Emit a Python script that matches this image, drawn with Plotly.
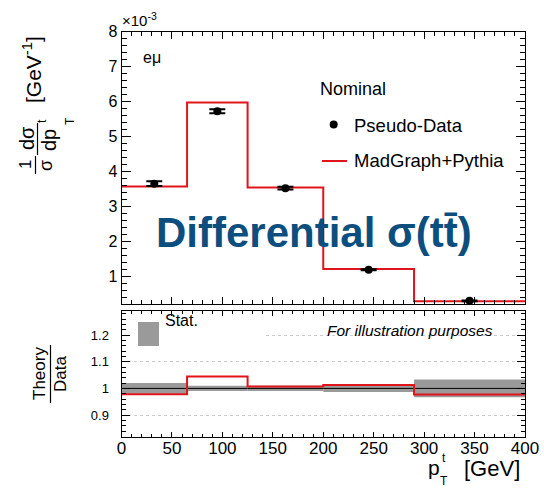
import plotly.graph_objects as go

# ---------------- data ----------------
bin_edges = [0, 65, 125, 200, 290, 400]
bin_centers = [32.5, 95, 162.5, 245, 345]
data_vals = [3.65, 5.72, 3.52, 1.19, 0.30]        # in units of 1e-3 GeV^-1
data_errs = [0.07, 0.06, 0.04, 0.015, 0.01]
model_vals = [3.57, 5.97, 3.54, 1.21, 0.29]       # MadGraph+Pythia
ratio_vals = [0.978, 1.045, 1.007, 1.013, 0.977]  # Theory / Data
stat_errs = [0.020, 0.010, 0.010, 0.013, 0.033]   # relative stat. unc.

main_ticks = [1, 2, 3, 4, 5, 6, 7, 8]
main_ticktext = ["1", "2", "3", "4", "5", "6", "7", "8"]
ratio_ticks = [0.9, 1.0, 1.1, 1.2]
ratio_ticktext = ["0.9", "1", "1.1", "1.2"]
x_ticks = [0, 50, 100, 150, 200, 250, 300, 350, 400]

W, H = 544, 490
FONT = "Liberation Sans, Arial, Helvetica, sans-serif"
RED = "#e0141b"
BLUE = "#0c4f7f"


def px(x):
    return x / W


def py(y):
    return 1 - y / H


bin_widths = [bin_edges[i + 1] - bin_edges[i] for i in range(len(bin_centers))]

fig = go.Figure()

# main panel: model step histogram
fig.add_trace(go.Scatter(
    x=bin_edges, y=model_vals + [model_vals[-1]], mode="lines",
    line=dict(color=RED, width=2, shape="hv"), xaxis="x", yaxis="y",
    showlegend=False, hoverinfo="skip"))

# main panel: pseudo-data points
fig.add_trace(go.Scatter(
    x=bin_centers, y=data_vals, mode="markers",
    marker=dict(color="black", size=8, symbol="circle"),
    error_y=dict(type="data", array=data_errs, color="black", thickness=2, width=8),
    xaxis="x", yaxis="y", showlegend=False))

# ratio panel: stat band
fig.add_trace(go.Bar(
    x=bin_centers, y=[2 * e for e in stat_errs], base=[1 - e for e in stat_errs],
    width=bin_widths, marker=dict(color="#9a9a9a", line=dict(width=0)),
    xaxis="x2", yaxis="y2", showlegend=False, hoverinfo="skip"))

# ratio panel: data / data = 1
fig.add_trace(go.Scatter(
    x=bin_edges, y=[1.0] * len(bin_edges), mode="lines",
    line=dict(color="black", width=1, shape="hv"), xaxis="x2", yaxis="y2",
    showlegend=False, hoverinfo="skip"))

# ratio panel: theory / data
fig.add_trace(go.Scatter(
    x=bin_edges, y=ratio_vals + [ratio_vals[-1]], mode="lines",
    line=dict(color=RED, width=2, shape="hv"), xaxis="x2", yaxis="y2",
    showlegend=False, hoverinfo="skip"))

x_dom = [121.5 / W, 525 / W]
main_dom = [py(304.3), py(31.5)]
ratio_dom = [py(436.7), py(310.5)]

common_ax = dict(showline=True, linecolor="black", linewidth=1, mirror="allticks",
                 ticks="inside", tickcolor="black", zeroline=False, showgrid=False,
                 automargin=False,
                 tickfont=dict(family=FONT, size=17, color="black"))

fig.update_layout(
    width=W, height=H, margin=dict(l=0, r=0, t=0, b=0, autoexpand=False),
    paper_bgcolor="white", plot_bgcolor="white", barmode="overlay",
    font=dict(family=FONT, color="black"),
    xaxis=dict(common_ax, domain=x_dom, anchor="y", range=[0, 400],
               tickvals=x_ticks, showticklabels=False, ticklen=7,
               minor=dict(ticks="inside", ticklen=4, dtick=10, tick0=0, tickcolor="black")),
    yaxis=dict(common_ax, domain=main_dom, anchor="x", range=[0.2, 8.0],
               tickvals=main_ticks, ticktext=main_ticktext, ticklen=9,
               tickfont=dict(family=FONT, size=16, color="black"),
               minor=dict(ticks="inside", ticklen=5, dtick=0.2, tick0=0, tickcolor="black")),
    xaxis2=dict(common_ax, domain=x_dom, anchor="y2", range=[0, 400], matches="x",
                tickvals=x_ticks, ticklen=5, ticklabelstandoff=-4,
                minor=dict(ticks="inside", ticklen=3, dtick=10, tick0=0, tickcolor="black")),
    yaxis2=dict(common_ax, domain=ratio_dom, anchor="x2", range=[0.819, 1.292],
                tickvals=ratio_ticks, ticktext=ratio_ticktext, ticklen=8,
                tickfont=dict(family=FONT, size=13, color="black"),
                ticklabelstandoff=9,
                showgrid=True, gridcolor="#cccccc", griddash="dot", gridwidth=1,
                minor=dict(ticks="inside", ticklen=4, dtick=0.02, tick0=0, tickcolor="black")),
)

shapes = []
annots = []


def ann(text, x, y, size, angle=0, xanchor="center", yanchor="middle",
        color="black", bold=False, italic=False):
    t = text
    if bold:
        t = "<b>" + t + "</b>"
    if italic:
        t = "<i>" + t + "</i>"
    annots.append(dict(text=t, x=px(x), y=py(y), xref="paper", yref="paper",
                       showarrow=False, textangle=angle, xanchor=xanchor,
                       yanchor=yanchor, font=dict(family=FONT, size=size, color=color)))


def hline(x0, x1, y, color="black", width=1):
    shapes.append(dict(type="line", xref="paper", yref="paper", x0=px(x0), x1=px(x1),
                       y0=py(y), y1=py(y), line=dict(color=color, width=width)))


def vline(x, y0, y1, color="black", width=1):
    shapes.append(dict(type="line", xref="paper", yref="paper", x0=px(x), x1=px(x),
                       y0=py(y0), y1=py(y1), line=dict(color=color, width=width)))


# white box hiding the 1.2 grid line behind the Stat. legend
shapes.append(dict(type="rect", xref="x2", yref="y2", x0=0, x1=141, y0=1.15, y1=1.292,
                   fillcolor="white", line=dict(width=0), layer="between"))

# exponent label
ann("×10<sup>-3</sup>", 120, 31, 15, xanchor="left", yanchor="bottom")
# channel label
ann("eμ", 141, 58, 16, xanchor="left")
# legend (main)
ann("Nominal", 318, 89, 18, xanchor="left")
shapes.append(dict(type="circle", xref="paper", yref="paper",
                   x0=px(329.7), x1=px(337.7), y0=py(120.5), y1=py(128.5),
                   fillcolor="black", line=dict(color="black", width=0)))
ann("Pseudo-Data", 352, 126, 18.5, xanchor="left")
hline(322, 347, 161, color=RED, width=2)
ann("MadGraph+Pythia", 352, 161, 18.5, xanchor="left")

# big title
ann("Differential σ(tt̄)", 314, 233, 42, color=BLUE, bold=True)

# stat legend in ratio panel
shapes.append(dict(type="rect", xref="paper", yref="paper",
                   x0=px(138), x1=px(159), y0=py(346), y1=py(322),
                   fillcolor="#9a9a9a", line=dict(width=0)))
ann("Stat.", 163, 320, 16, xanchor="left")
ann("For illustration purposes", 410, 330, 15.5, italic=True)

# y title of main panel: 1/sigma dsigma/dp_T^t [GeV^-1]
ann("1", 25, 165, 17, angle=-90)
vline(35.5, 156, 174, width=1.2)
ann("σ", 46, 166, 18, angle=-90)
ann("dσ", 27, 138, 20, angle=-90)
vline(37.5, 123, 155, width=1.2)
ann("dp", 49, 140, 20, angle=-90)
ann("t", 42, 121, 12, angle=-90)
ann("T", 70, 121, 12, angle=-90)
ann("[GeV<sup>-1</sup>]", 32, 70, 21, angle=-90)

# y title of ratio panel
ann("Theory", 39, 374, 17, angle=-90)
vline(50.5, 345, 403, width=1.2)
ann("Data", 60, 374, 17, angle=-90)

# x title
ann("p", 434, 467, 21)
ann("t", 443.5, 458, 12)
ann("T", 444, 481, 12)
ann("[GeV]", 492, 468, 22)

fig.update_layout(shapes=shapes, annotations=annots)
fig.write_html("out.html")
